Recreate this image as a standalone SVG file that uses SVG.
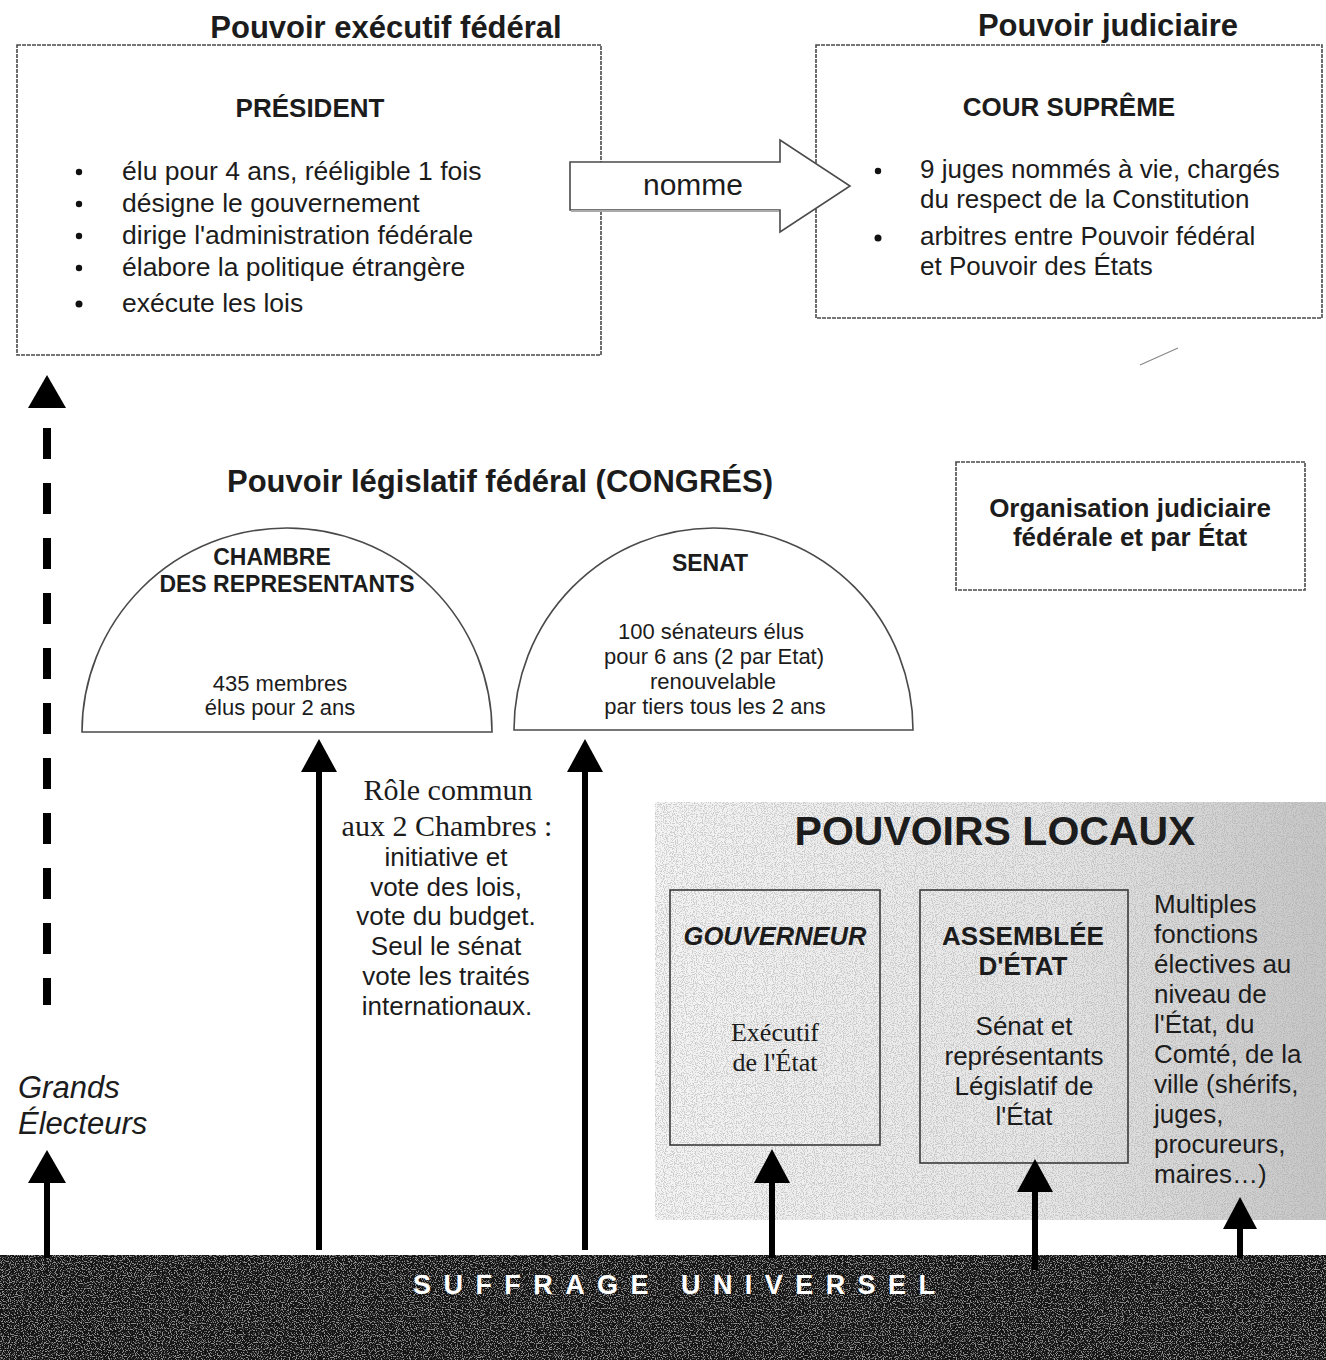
<svg xmlns="http://www.w3.org/2000/svg" width="1326" height="1360" viewBox="0 0 1326 1360">
<defs>
  <style>
    .t { font-family: "Liberation Sans", Arial, sans-serif; fill: #1c1c1c; }
    .b { font-weight: bold; }
    .serif { font-family: "Liberation Serif", "Times New Roman", serif; fill: #1c1c1c; }
    .box { fill: #ffffff; stroke: #4a4a4a; stroke-width: 1.6; stroke-dasharray: 4 1; }
    .lbox { fill: none; stroke: #3a3a3a; stroke-width: 1.6; }
    .dome { fill: #ffffff; stroke: #4a4a4a; stroke-width: 1.6; }
    .shaft { stroke: #000; stroke-width: 6; fill: none; }
    .head { fill: #000; }
  </style>
  <filter id="stipple" x="0" y="0" width="100%" height="100%">
    <feTurbulence type="fractalNoise" baseFrequency="0.9" numOctaves="1" seed="4" result="n"/>
    <feColorMatrix in="n" type="matrix" values="0 0 0 0 0.4  0 0 0 0 0.4  0 0 0 0 0.4  -9 0 0 0 4.6"/>
    <feComposite in2="SourceGraphic" operator="in"/>
  </filter>
  <filter id="grain" x="0" y="0" width="100%" height="100%">
    <feTurbulence type="fractalNoise" baseFrequency="0.85" numOctaves="1" seed="7" result="n"/>
    <feColorMatrix in="n" type="matrix" values="0 0 0 0 0.42  0 0 0 0 0.42  0 0 0 0 0.42  -9 0 0 0 4.4"/>
    <feComposite in2="SourceGraphic" operator="in"/>
  </filter>
  <linearGradient id="locGrad" x1="0" y1="0" x2="1" y2="0">
    <stop offset="0" stop-color="#f4f4f4"/>
    <stop offset="0.6" stop-color="#e6e6e6"/>
    <stop offset="1" stop-color="#c6c6c6"/>
  </linearGradient>
</defs>

<rect x="0" y="0" width="1326" height="1360" fill="#ffffff"/>

<!-- Pouvoirs locaux background -->
<g id="locaux-bg">
  <rect x="655" y="802" width="671" height="418" fill="url(#locGrad)"/>
  <rect x="655" y="802" width="671" height="418" fill="#000" filter="url(#stipple)" opacity="0.5"/>
</g>

<!-- Suffrage universel bar -->
<g id="suffrage">
  <rect x="0" y="1255" width="1326" height="105" fill="#141414"/>
  <rect x="0" y="1255" width="1326" height="105" fill="#000" filter="url(#grain)" opacity="0.8"/>
  <text class="t b" x="674" y="1294" font-size="27" text-anchor="middle" style="fill:#ffffff" textLength="522" lengthAdjust="spacing">SUFFRAGE  UNIVERSEL</text>
</g>

<!-- Executive -->
<g id="executif">
  <text class="t b" x="386" y="38" font-size="31" text-anchor="middle">Pouvoir exécutif fédéral</text>
  <rect class="box" x="17" y="45" width="584" height="310"/>
  <text class="t b" x="310" y="117" font-size="26" text-anchor="middle">PRÉSIDENT</text>
  <g font-size="26.5" class="t">
    <text x="122" y="180">élu pour 4 ans, rééligible 1 fois</text>
    <text x="122" y="212">désigne le gouvernement</text>
    <text x="122" y="244">dirige l'administration fédérale</text>
    <text x="122" y="276">élabore la politique étrangère</text>
    <text x="122" y="312">exécute les lois</text>
  </g>
  <g fill="#111">
    <circle cx="79" cy="172" r="3.2"/>
    <circle cx="79" cy="204" r="3.2"/>
    <circle cx="79" cy="236" r="3.2"/>
    <circle cx="79" cy="268" r="3.2"/>
    <circle cx="79" cy="304" r="3.5"/>
  </g>
</g>

<!-- Judiciary -->
<g id="judiciaire">
  <text class="t b" x="1108" y="36" font-size="31" text-anchor="middle">Pouvoir judiciaire</text>
  <rect class="box" x="816" y="45" width="506" height="273"/>
  <text class="t b" x="1069" y="116" font-size="26" text-anchor="middle">COUR SUPRÊME</text>
  <g font-size="26" class="t">
    <text x="920" y="178">9 juges nommés à vie, chargés</text>
    <text x="920" y="208">du respect de la Constitution</text>
    <text x="920" y="245">arbitres entre Pouvoir fédéral</text>
    <text x="920" y="275">et Pouvoir des États</text>
  </g>
  <g fill="#111">
    <circle cx="878" cy="171" r="3.2"/>
    <circle cx="878" cy="238" r="3.5"/>
  </g>
  <line x1="1140" y1="365" x2="1178" y2="348" stroke="#888" stroke-width="1.2"/>
</g>

<!-- Organisation judiciaire -->
<g id="organisation">
  <rect class="box" x="956" y="462" width="349" height="128"/>
  <text class="t b" x="1130" y="517" font-size="26" text-anchor="middle">Organisation judiciaire</text>
  <text class="t b" x="1130" y="546" font-size="26" text-anchor="middle">fédérale et par État</text>
</g>

<!-- Congress -->
<g id="congres">
  <text class="t b" x="500" y="492" font-size="31" text-anchor="middle">Pouvoir législatif fédéral (CONGRÉS)</text>
</g>

<g id="chambre">
  <path class="dome" d="M82,732 A205,204 0 0 1 492,732 Z"/>
  <text class="t b" x="272" y="565" font-size="23" text-anchor="middle">CHAMBRE</text>
  <text class="t b" x="287" y="592" font-size="23" text-anchor="middle">DES REPRESENTANTS</text>
  <text class="t" x="280" y="691" font-size="22" text-anchor="middle">435 membres</text>
  <text class="t" x="280" y="715" font-size="22" text-anchor="middle">élus pour 2 ans</text>
</g>

<g id="senat">
  <path class="dome" d="M514,730 A199.5,202 0 0 1 913,730 Z"/>
  <text class="t b" x="710" y="571" font-size="23" text-anchor="middle">SENAT</text>
  <g class="t" font-size="22" text-anchor="middle">
    <text x="711" y="639">100 sénateurs élus</text>
    <text x="714" y="664">pour 6 ans (2 par Etat)</text>
    <text x="713" y="689">renouvelable</text>
    <text x="715" y="714">par tiers tous les 2 ans</text>
  </g>
</g>

<!-- Role commun -->
<g id="role-commun">
  <text class="serif" x="448" y="800" font-size="30" text-anchor="middle">Rôle commun</text>
  <text class="serif" x="447" y="836" font-size="30" text-anchor="middle">aux 2 Chambres :</text>
  <g class="t" font-size="26" text-anchor="middle">
    <text x="446" y="866">initiative et</text>
    <text x="446" y="896">vote des lois,</text>
    <text x="446" y="925">vote du budget.</text>
    <text x="446" y="955">Seul le sénat</text>
    <text x="446" y="985">vote les traités</text>
    <text x="447" y="1015">internationaux.</text>
  </g>
</g>

<!-- Grands electeurs -->
<g id="grands-electeurs">
  <text class="t" x="18" y="1098" font-size="31" font-style="italic">Grands</text>
  <text class="t" x="18" y="1134" font-size="31" font-style="italic">Électeurs</text>
</g>

<!-- Pouvoirs locaux -->
<g id="pouvoirs-locaux">
  <text class="t b" x="995" y="845" font-size="41" text-anchor="middle">POUVOIRS LOCAUX</text>
</g>

<g id="gouverneur">
  <rect class="lbox" x="670" y="890" width="210" height="255"/>
  <text class="t b" x="775" y="945" font-size="25.5" font-style="italic" text-anchor="middle">GOUVERNEUR</text>
  <text class="serif" x="775" y="1041" font-size="26" text-anchor="middle">Exécutif</text>
  <text class="serif" x="775" y="1071" font-size="26" text-anchor="middle">de l'État</text>
</g>

<g id="assemblee">
  <rect class="lbox" x="920" y="890" width="208" height="273"/>
  <text class="t b" x="1023" y="945" font-size="26" text-anchor="middle">ASSEMBLÉE</text>
  <text class="t b" x="1023" y="975" font-size="26" text-anchor="middle">D'ÉTAT</text>
  <g class="t" font-size="26" text-anchor="middle">
    <text x="1024" y="1035">Sénat et</text>
    <text x="1024" y="1065">représentants</text>
    <text x="1024" y="1095">Législatif de</text>
    <text x="1024" y="1125">l'État</text>
  </g>
</g>

<g id="fonctions-electives">
  <g class="t" font-size="26">
    <text x="1154" y="913">Multiples</text>
    <text x="1154" y="943">fonctions</text>
    <text x="1154" y="973">électives au</text>
    <text x="1154" y="1003">niveau de</text>
    <text x="1154" y="1033">l'État, du</text>
    <text x="1154" y="1063">Comté, de la</text>
    <text x="1154" y="1093">ville (shérifs,</text>
    <text x="1154" y="1123">juges,</text>
    <text x="1154" y="1153">procureurs,</text>
    <text x="1154" y="1183">maires…)</text>
  </g>
</g>

<!-- Connectors -->
<g id="connectors">
  <!-- nomme block arrow -->
  <g id="nomme">
    <polygon points="570,162 780,162 780,140 850,186 780,232 780,210 570,210" fill="#ffffff" stroke="#4a4a4a" stroke-width="1.6"/>
    <line x1="571" y1="211" x2="779" y2="211" stroke="#aaa" stroke-width="2"/>
    <text class="t" x="693" y="195" font-size="30" text-anchor="middle">nomme</text>
  </g>
  <!-- dashed arrow to president -->
  <path d="M47,428 V1005" stroke="#000" stroke-width="8" stroke-dasharray="31 24" fill="none"/>
  <polygon class="head" points="47,375 66,408 28,408"/>
  <!-- grands electeurs -->
  <path class="shaft" d="M47,1258 V1180"/>
  <polygon class="head" points="47,1150 66,1183 28,1183"/>
  <!-- chambre -->
  <path class="shaft" d="M319,1250 V768"/>
  <polygon class="head" points="319,739 337,772 301,772"/>
  <!-- senat -->
  <path class="shaft" d="M585,1250 V768"/>
  <polygon class="head" points="585,739 603,772 567,772"/>
  <!-- gouverneur -->
  <path class="shaft" d="M772,1258 V1180"/>
  <polygon class="head" points="772,1149 790,1183 754,1183"/>
  <!-- assemblee -->
  <path class="shaft" d="M1035,1270 V1188"/>
  <polygon class="head" points="1035,1159 1053,1192 1017,1192"/>
  <!-- fonctions -->
  <path class="shaft" d="M1240,1258 V1225"/>
  <polygon class="head" points="1240,1197 1257,1229 1223,1229"/>
</g>
</svg>
